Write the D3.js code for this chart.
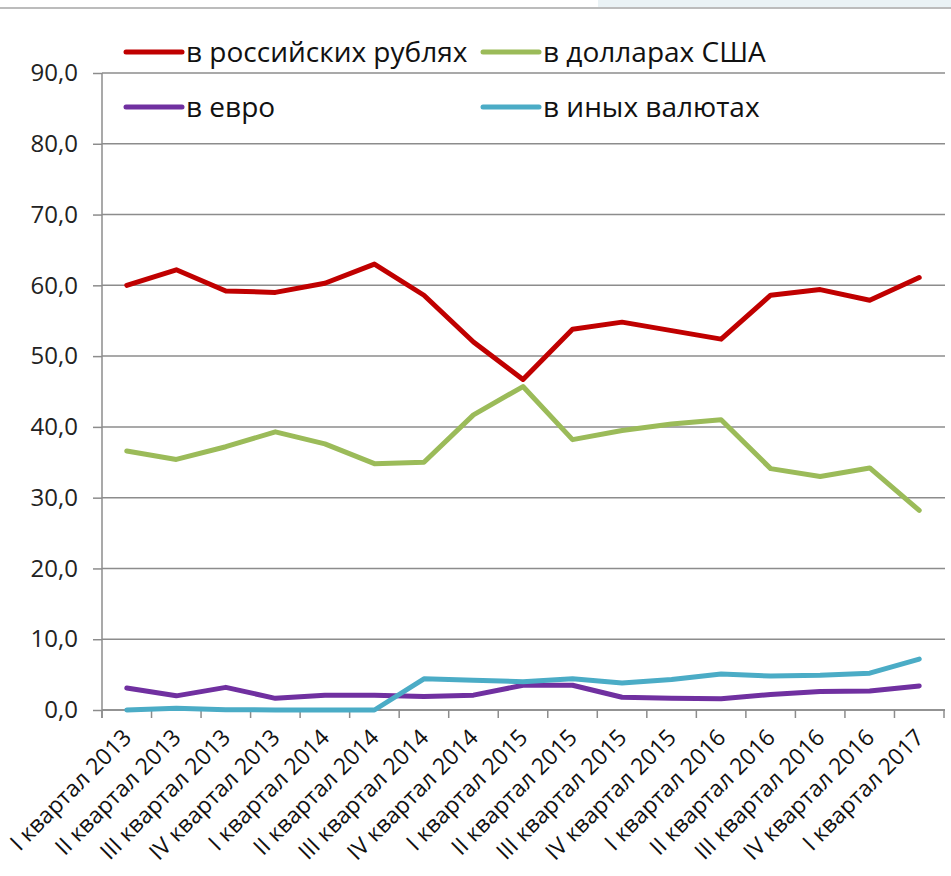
<!DOCTYPE html>
<html><head><meta charset="utf-8">
<script src="https://cdn.jsdelivr.net/npm/d3@7"></script>
<style>
html,body{margin:0;padding:0;background:#fff;}
svg{display:block;font-family:"Open Sans",sans-serif;}
</style></head>
<body>
<svg id="c" width="951" height="876"></svg>
<script>
const categories = ["I квартал 2013","II квартал 2013","III квартал 2013","IV квартал 2013",
  "I квартал 2014","II квартал 2014","III квартал 2014","IV квартал 2014",
  "I квартал 2015","II квартал 2015","III квартал 2015","IV квартал 2015",
  "I квартал 2016","II квартал 2016","III квартал 2016","IV квартал 2016","I квартал 2017"];
const rub   = [60.0,62.2,59.2,59.0,60.3,63.0,58.6,52.0,46.7,53.8,54.8,53.6,52.4,58.6,59.4,57.9,61.1];
const usd   = [36.6,35.4,37.2,39.3,37.6,34.8,35.0,41.7,45.7,38.2,39.5,40.4,41.0,34.1,33.0,34.2,28.2];
const eur   = [3.1,2.0,3.2,1.65,2.1,2.1,1.9,2.1,3.5,3.5,1.8,1.65,1.6,2.2,2.6,2.7,3.4];
const other = [0.0,0.25,0.05,0.0,0.0,0.0,4.4,4.2,4.0,4.4,3.8,4.3,5.1,4.8,4.9,5.2,7.2];
const seriesNames = ["в российских рублях","в долларах США","в евро","в иных валютах"];
const seriesColors = ["#C00000","#9BBB59","#7030A0","#4BACC6"];
const yTicks = [0,10,20,30,40,50,60,70,80,90];

const series = [rub, usd, eur, other];
const svg = d3.select("#c");

// top strip
svg.append("rect").attr("x",598).attr("y",0).attr("width",353).attr("height",7).attr("fill","#eaf2f5");
svg.append("line").attr("x1",0).attr("x2",951).attr("y1",8).attr("y2",8).attr("stroke","#a6a6a6").attr("stroke-width",1.5);

const x = d3.scaleBand().domain(categories).range([102,944]);
const y = d3.scaleLinear().domain([0,90]).range([710,73]);
const fmt = v => d3.format(".1f")(v).replace(".", ",");

// gridlines
svg.append("g").selectAll("line").data(yTicks).join("line")
  .attr("x1",102).attr("x2",945).attr("y1",d=>y(d)).attr("y2",d=>y(d))
  .attr("stroke","#8c8c8c").attr("stroke-width",1.5);

// y axis
const yAxis = svg.append("g").attr("transform","translate(102,0)")
  .call(d3.axisLeft(y).tickValues(yTicks).tickFormat(fmt).tickSize(9).tickPadding(15));
yAxis.select(".domain").attr("stroke","#8c8c8c").attr("stroke-width",1.5).attr("d","M0,73V718");
yAxis.selectAll(".tick line").attr("stroke","#8c8c8c").attr("stroke-width",1.5);
yAxis.selectAll(".tick text").attr("font-size",24).attr("fill","#222").attr("font-family","Open Sans");

// x axis ticks at band boundaries
const bounds = categories.map(c=>x(c)).concat([x(categories[categories.length-1])+x.bandwidth()]);
svg.append("g").selectAll("line").data(bounds).join("line")
  .attr("x1",d=>d).attr("x2",d=>d).attr("y1",710).attr("y2",718)
  .attr("stroke","#8c8c8c").attr("stroke-width",1.5);
svg.append("line").attr("x1",102).attr("x2",945).attr("y1",y(0)).attr("y2",y(0))
  .attr("stroke","#8c8c8c").attr("stroke-width",1.5);

// x labels
svg.append("g").selectAll("text").data(categories).join("text")
  .attr("transform",d=>`translate(${x(d)+x.bandwidth()/2+6},${739}) rotate(-45)`)
  .attr("text-anchor","end").attr("font-size",23).attr("fill","#111")
  .text(d=>d);

// lines
const line = d3.line().x((d,i)=>x(categories[i])+x.bandwidth()/2).y(d=>y(d));
series.forEach((s,k)=>{
  svg.append("path").datum(s).attr("d",line).attr("fill","none")
    .attr("stroke",seriesColors[k]).attr("stroke-width",5)
    .attr("stroke-linejoin","round").attr("stroke-linecap","round");
});

// legend
const legPos = [[126,52],[483,52],[126,107],[483,107]];
seriesNames.forEach((n,k)=>{
  const [lx,ly]=legPos[k];
  svg.append("line").attr("x1",lx).attr("x2",lx+56).attr("y1",ly).attr("y2",ly)
    .attr("stroke",seriesColors[k]).attr("stroke-width",5).attr("stroke-linecap","round");
  svg.append("text").attr("x",lx+60).attr("y",ly+10).attr("font-size",28).attr("fill","#111").text(n);
});
</script>
</body></html>
